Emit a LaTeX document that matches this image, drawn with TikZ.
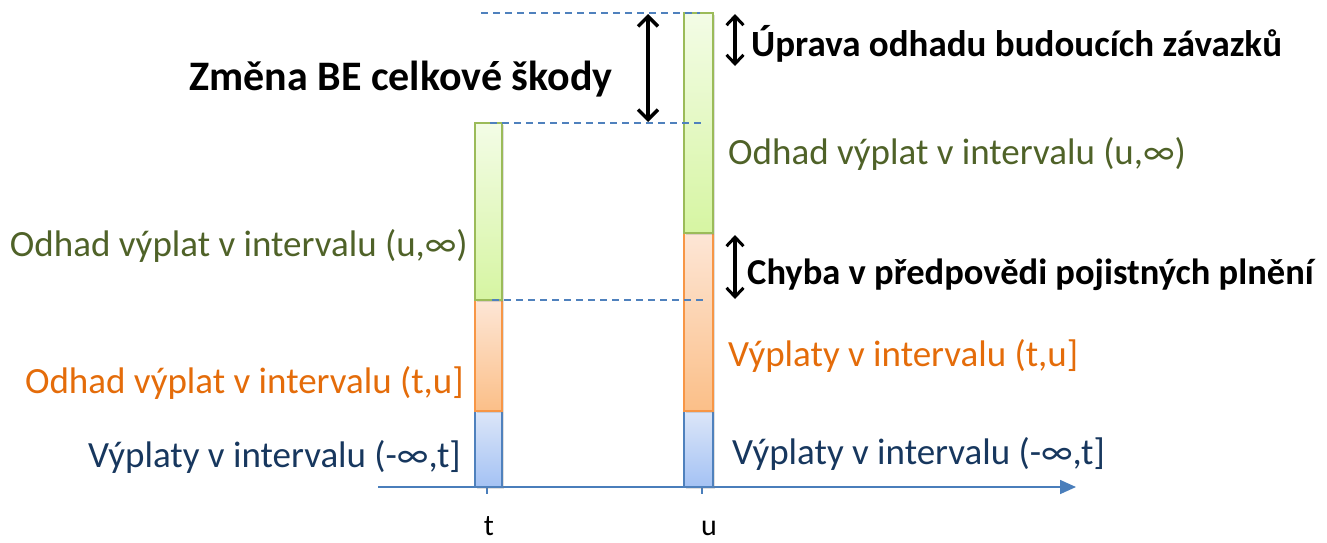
\documentclass[tikz,border=0pt]{standalone}
\usepackage{fontspec}
\setmainfont{Carlito}
\usetikzlibrary{arrows.meta,shadows}
\definecolor{axisblue}{HTML}{4A7EBB}
\definecolor{dashblue}{HTML}{4F81BD}
\definecolor{grnB}{HTML}{9BBB59}
\definecolor{grnT}{HTML}{F3FCE6}
\definecolor{grnBot}{HTML}{D6F5A2}
\definecolor{orgB}{HTML}{F79646}
\definecolor{orgT}{HTML}{FDE6D6}
\definecolor{orgBot}{HTML}{FBBF88}
\definecolor{bluB}{HTML}{4F81BD}
\definecolor{bluT}{HTML}{DCE6F8}
\definecolor{bluBot}{HTML}{A4C2F4}
\definecolor{txtgreen}{HTML}{4F6228}
\definecolor{txtorange}{HTML}{E46C0A}
\definecolor{txtblue}{HTML}{17375E}
\tikzset{
  seg/.style={line width=2pt, drop shadow={shadow xshift=1.5pt,shadow yshift=-1.5pt,opacity=0.25}},
  gseg/.style={seg, draw=grnB, top color=grnT, bottom color=grnBot},
  oseg/.style={seg, draw=orgB, top color=orgT, bottom color=orgBot},
  bseg/.style={seg, draw=bluB, top color=bluT, bottom color=bluBot},
  guide/.style={draw=dashblue, line width=1.1pt, dash pattern=on 7pt off 5pt},
  dbl/.style={line width=3.6pt, {Straight Barb[length=10pt,width=20pt,line width=3.4pt]}-{Straight Barb[length=10pt,width=20pt,line width=3.4pt]}},
  sdbl/.style={line width=3.2pt, {Straight Barb[length=9pt,width=17pt,line width=3pt]}-{Straight Barb[length=9pt,width=17pt,line width=3pt]}},
  lab/.style={inner sep=0pt, font=\fontsize{37}{40}\selectfont},
  blab/.style={inner sep=0pt, font=\fontsize{36.5}{40}\selectfont\bfseries},
}
\begin{document}
\begin{tikzpicture}[x=1pt,y=-1pt]
\useasboundingbox (0,0) rectangle (1327,542);
% axis
\draw[axisblue, line width=1.6pt, -{Triangle[length=16pt,width=14pt]}] (378,487) coordinate (a0) -- (1076,487) coordinate (a1);
\draw[axisblue, line width=1.2pt] (487,487) -- (487,494);
\draw[axisblue, line width=1.2pt] (702,487) -- (702,494);
% bar t
\path[bseg] (475,411) rectangle (502,487);
\path[oseg] (475,300) rectangle (502,411);
\path[gseg] (475,123) rectangle (502,300);
% bar u
\path[bseg] (684,411) rectangle (713,487);
\path[oseg] (684,233) rectangle (713,411);
\path[gseg] (684,13) rectangle (713,233);
% guides
\draw[guide] (481,13) -- (700,13);
\draw[guide] (490,123) -- (703,123);
\draw[guide] (492,300) -- (706,300);
% double arrows
\coordinate (d1a) at (648,14); \coordinate (d1b) at (648,122);
\draw[dbl] (d1a) -- (d1b);
\coordinate (d2a) at (735,14); \coordinate (d2b) at (735,66);
\draw[sdbl] (d2a) -- (d2b);
\coordinate (d3a) at (735,235); \coordinate (d3b) at (735,299);
\draw[sdbl] (d3a) -- (d3b);
% labels
\node[inner sep=0pt, anchor=base, font=\fontsize{42}{46}\selectfont\bfseries] (zm) at (401,90) {Změna BE celkové škody};
\node[inner sep=0pt, anchor=base west, font=\fontsize{37}{40}\selectfont\bfseries] (up) at (751,56) {Úprava odhadu budoucích závazků};
\node[blab, anchor=base west] (ch) at (747,284) {Chyba v předpovědi pojistných plnění};
\node[lab, anchor=base west, text=txtgreen] (rg) at (728,164) {Odhad výplat v intervalu (u,∞)};
\node[lab, anchor=base west, text=txtorange] (ro) at (728,366) {Výplaty v intervalu (t,u]};
\node[lab, anchor=base west, text=txtblue] (rb) at (732,464) {Výplaty v intervalu (-∞,t]};
\node[lab, anchor=base east, text=txtgreen] (lg) at (468,256) {Odhad výplat v intervalu (u,∞)};
\node[lab, anchor=base east, text=txtorange] (lo) at (464,393) {Odhad výplat v intervalu (t,u]};
\node[lab, anchor=base east, text=txtblue] (lb) at (461,467) {Výplaty v intervalu (-∞,t]};
\node[inner sep=0pt, anchor=base, font=\fontsize{30}{32}\selectfont] (tl) at (489,535) {t};
\node[inner sep=0pt, anchor=base, font=\fontsize{30}{32}\selectfont] (ul) at (709,535) {u};
\end{tikzpicture}
\end{document}
